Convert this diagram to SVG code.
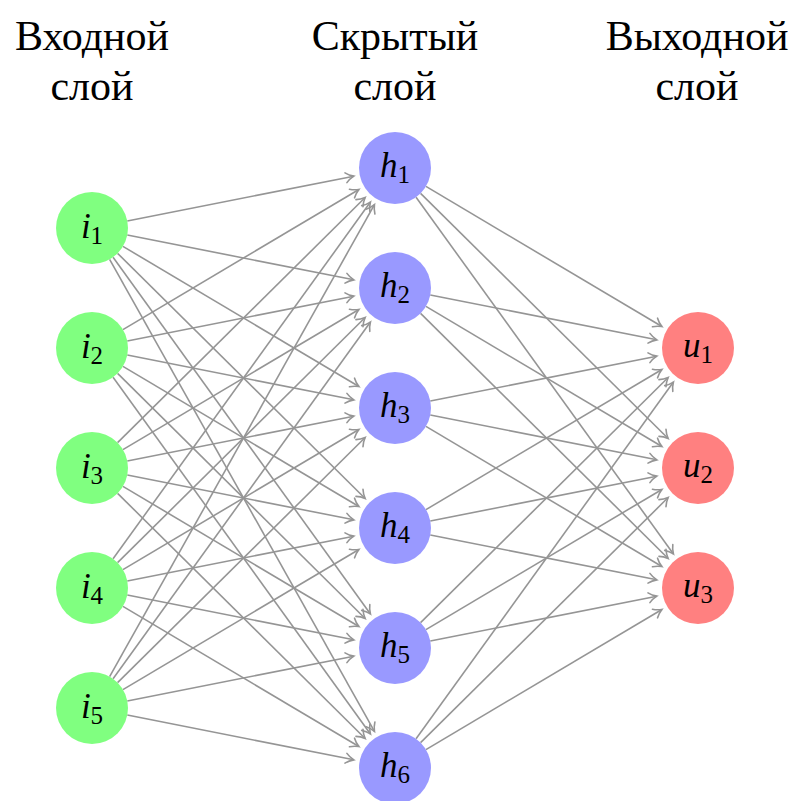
<svg xmlns="http://www.w3.org/2000/svg" width="797" height="801" viewBox="0 0 797 801">
  <defs>
    <!-- open "to"-style arrowhead with curved barbs -->
    <marker id="tip" markerUnits="userSpaceOnUse" markerWidth="16" markerHeight="16" viewBox="-10 -8 12 16" refX="0" refY="0" orient="auto">
      <path d="M-8,-5 C-5,-2.2 -1.5,-0.6 0,0 C-1.5,0.6 -5,2.2 -8,5" fill="none" stroke="#959595" stroke-width="1.6" stroke-linecap="round"/>
    </marker>
  </defs>

  <rect width="797" height="801" fill="#ffffff"/>

  <!-- column titles -->
  <g id="titles">
    <text x="92" y="50" font-family="Liberation Serif" font-size="42" text-anchor="middle">Входной</text>
    <text x="92" y="100" font-family="Liberation Serif" font-size="42" text-anchor="middle">слой</text>
    <text x="395" y="50" font-family="Liberation Serif" font-size="42" text-anchor="middle">Скрытый</text>
    <text x="395" y="100" font-family="Liberation Serif" font-size="42" text-anchor="middle">слой</text>
    <text x="697" y="50" font-family="Liberation Serif" font-size="42" text-anchor="middle">Выходной</text>
    <text x="697" y="100" font-family="Liberation Serif" font-size="42" text-anchor="middle">слой</text>
  </g>

  <g id="edges" stroke="#959595" stroke-width="1.6" fill="none" marker-end="url(#tip)">
    <!-- input layer to hidden layer -->
    <line x1="127.31" y1="221.01" x2="353.80" y2="176.16"/>
    <line x1="127.31" y1="234.99" x2="353.80" y2="279.84"/>
    <line x1="122.95" y1="246.39" x2="358.89" y2="386.55"/>
    <line x1="117.58" y1="253.33" x2="365.15" y2="498.45"/>
    <line x1="113.06" y1="257.20" x2="370.43" y2="613.94"/>
    <line x1="109.62" y1="259.40" x2="374.45" y2="731.37"/>

    <line x1="122.95" y1="329.61" x2="358.89" y2="189.45"/>
    <line x1="127.31" y1="341.01" x2="353.80" y2="296.16"/>
    <line x1="127.31" y1="354.99" x2="353.80" y2="399.84"/>
    <line x1="122.95" y1="366.39" x2="358.89" y2="506.55"/>
    <line x1="117.58" y1="373.33" x2="365.15" y2="618.45"/>
    <line x1="113.06" y1="377.20" x2="370.43" y2="733.94"/>

    <line x1="117.58" y1="442.67" x2="365.15" y2="197.55"/>
    <line x1="122.95" y1="449.61" x2="358.89" y2="309.45"/>
    <line x1="127.31" y1="461.01" x2="353.80" y2="416.16"/>
    <line x1="127.31" y1="474.99" x2="353.80" y2="519.84"/>
    <line x1="122.95" y1="486.39" x2="358.89" y2="626.55"/>
    <line x1="117.58" y1="493.33" x2="365.15" y2="738.45"/>

    <line x1="113.06" y1="558.80" x2="370.43" y2="202.06"/>
    <line x1="117.58" y1="562.67" x2="365.15" y2="317.55"/>
    <line x1="122.95" y1="569.61" x2="358.89" y2="429.45"/>
    <line x1="127.31" y1="581.01" x2="353.80" y2="536.16"/>
    <line x1="127.31" y1="594.99" x2="353.80" y2="639.84"/>
    <line x1="122.95" y1="606.39" x2="358.89" y2="746.55"/>

    <line x1="109.62" y1="676.60" x2="374.45" y2="204.63"/>
    <line x1="113.06" y1="678.80" x2="370.43" y2="322.06"/>
    <line x1="117.58" y1="682.67" x2="365.15" y2="437.55"/>
    <line x1="122.95" y1="689.61" x2="358.89" y2="549.45"/>
    <line x1="127.31" y1="701.01" x2="353.80" y2="656.16"/>
    <line x1="127.31" y1="714.99" x2="353.80" y2="759.84"/>

    <!-- hidden layer to output layer -->
    <line x1="425.95" y1="186.39" x2="661.89" y2="326.55"/>
    <line x1="420.58" y1="193.33" x2="668.15" y2="438.45"/>
    <line x1="416.06" y1="197.20" x2="673.43" y2="553.94"/>

    <line x1="430.31" y1="294.99" x2="656.80" y2="339.84"/>
    <line x1="425.95" y1="306.39" x2="661.89" y2="446.55"/>
    <line x1="420.58" y1="313.33" x2="668.15" y2="558.45"/>

    <line x1="430.31" y1="401.01" x2="656.80" y2="356.16"/>
    <line x1="430.31" y1="414.99" x2="656.80" y2="459.84"/>
    <line x1="425.95" y1="426.39" x2="661.89" y2="566.55"/>

    <line x1="425.95" y1="509.61" x2="661.89" y2="369.45"/>
    <line x1="430.31" y1="521.01" x2="656.80" y2="476.16"/>
    <line x1="430.31" y1="534.99" x2="656.80" y2="579.84"/>

    <line x1="420.58" y1="622.67" x2="668.15" y2="377.55"/>
    <line x1="425.95" y1="629.61" x2="661.89" y2="489.45"/>
    <line x1="430.31" y1="641.01" x2="656.80" y2="596.16"/>

    <line x1="416.06" y1="738.80" x2="673.43" y2="382.06"/>
    <line x1="420.58" y1="742.67" x2="668.15" y2="497.55"/>
    <line x1="425.95" y1="749.61" x2="661.89" y2="609.45"/>
  </g>

  <!-- input layer -->
  <g id="i1"><circle fill="#80ff80" cx="92" cy="228" r="36"/><text x="92" y="238" font-family="Liberation Serif" font-size="35" font-style="italic" text-anchor="middle">i<tspan font-style="normal" font-size="25" dy="6">1</tspan></text></g>
  <g id="i2"><circle fill="#80ff80" cx="92" cy="348" r="36"/><text x="92" y="358" font-family="Liberation Serif" font-size="35" font-style="italic" text-anchor="middle">i<tspan font-style="normal" font-size="25" dy="6">2</tspan></text></g>
  <g id="i3"><circle fill="#80ff80" cx="92" cy="468" r="36"/><text x="92" y="478" font-family="Liberation Serif" font-size="35" font-style="italic" text-anchor="middle">i<tspan font-style="normal" font-size="25" dy="6">3</tspan></text></g>
  <g id="i4"><circle fill="#80ff80" cx="92" cy="588" r="36"/><text x="92" y="598" font-family="Liberation Serif" font-size="35" font-style="italic" text-anchor="middle">i<tspan font-style="normal" font-size="25" dy="6">4</tspan></text></g>
  <g id="i5"><circle fill="#80ff80" cx="92" cy="708" r="36"/><text x="92" y="718" font-family="Liberation Serif" font-size="35" font-style="italic" text-anchor="middle">i<tspan font-style="normal" font-size="25" dy="6">5</tspan></text></g>

  <!-- hidden layer -->
  <g id="h1"><circle fill="#9999ff" cx="395" cy="168" r="36"/><text x="395" y="177" font-family="Liberation Serif" font-size="35" font-style="italic" text-anchor="middle">h<tspan font-style="normal" font-size="25" dy="6">1</tspan></text></g>
  <g id="h2"><circle fill="#9999ff" cx="395" cy="288" r="36"/><text x="395" y="297" font-family="Liberation Serif" font-size="35" font-style="italic" text-anchor="middle">h<tspan font-style="normal" font-size="25" dy="6">2</tspan></text></g>
  <g id="h3"><circle fill="#9999ff" cx="395" cy="408" r="36"/><text x="395" y="417" font-family="Liberation Serif" font-size="35" font-style="italic" text-anchor="middle">h<tspan font-style="normal" font-size="25" dy="6">3</tspan></text></g>
  <g id="h4"><circle fill="#9999ff" cx="395" cy="528" r="36"/><text x="395" y="537" font-family="Liberation Serif" font-size="35" font-style="italic" text-anchor="middle">h<tspan font-style="normal" font-size="25" dy="6">4</tspan></text></g>
  <g id="h5"><circle fill="#9999ff" cx="395" cy="648" r="36"/><text x="395" y="657" font-family="Liberation Serif" font-size="35" font-style="italic" text-anchor="middle">h<tspan font-style="normal" font-size="25" dy="6">5</tspan></text></g>
  <g id="h6"><circle fill="#9999ff" cx="395" cy="768" r="36"/><text x="395" y="777" font-family="Liberation Serif" font-size="35" font-style="italic" text-anchor="middle">h<tspan font-style="normal" font-size="25" dy="6">6</tspan></text></g>

  <!-- output layer -->
  <g id="u1"><circle fill="#ff8080" cx="698" cy="348" r="36"/><text x="698" y="357" font-family="Liberation Serif" font-size="35" font-style="italic" text-anchor="middle">u<tspan font-style="normal" font-size="25" dy="6">1</tspan></text></g>
  <g id="u2"><circle fill="#ff8080" cx="698" cy="468" r="36"/><text x="698" y="477" font-family="Liberation Serif" font-size="35" font-style="italic" text-anchor="middle">u<tspan font-style="normal" font-size="25" dy="6">2</tspan></text></g>
  <g id="u3"><circle fill="#ff8080" cx="698" cy="588" r="36"/><text x="698" y="597" font-family="Liberation Serif" font-size="35" font-style="italic" text-anchor="middle">u<tspan font-style="normal" font-size="25" dy="6">3</tspan></text></g>
</svg>
